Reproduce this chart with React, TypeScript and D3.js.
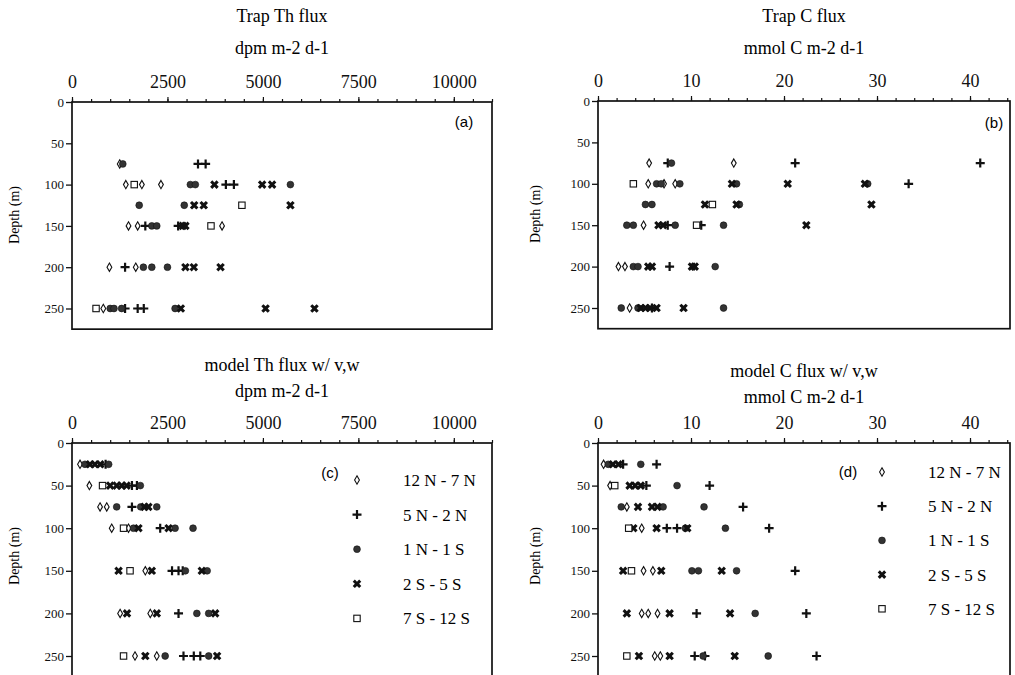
import React, { useEffect, useRef } from "react";
import * as d3 from "d3";

const depthTicks = [0, 50, 100, 150, 200, 250];
const thTicks = [0, 2500, 5000, 7500, 10000];
const cTicks = [0, 10, 20, 30, 40];
const seriesNames = ["12 N - 7 N", "5 N - 2 N", "1 N - 1 S", "2 S - 5 S", "7 S - 12 S"];

// [depth (m), flux] pairs

// (a) trap Th flux, dpm m-2 d-1
const trapTh12N7N = [[75, 1250], [100, 1410], [100, 1830], [100, 2330], [150, 1480], [150, 1720], [150, 3930], [200, 980], [200, 1670], [250, 820]];
const trapTh5N2N = [[75, 3300], [75, 3500], [100, 4030], [100, 4240], [150, 1920], [150, 2780], [200, 1390], [250, 1390], [250, 1720], [250, 1880]];
const trapTh1N1S = [[75, 1330], [100, 3100], [100, 3230], [100, 5720], [125, 1760], [125, 2940], [150, 2090], [150, 2220], [200, 1870], [200, 2090], [200, 2500], [250, 1000], [250, 1100], [250, 1300], [250, 2700]];
const trapTh2S5S = [[100, 3730], [100, 4980], [100, 5240], [125, 3200], [125, 3450], [125, 5720], [150, 2900], [150, 2970], [200, 2970], [200, 3190], [200, 3890], [250, 2850], [250, 5070], [250, 6350]];
const trapTh7S12S = [[100, 1630], [125, 4450], [150, 3640], [250, 630]];

// (b) trap C flux, mmol C m-2 d-1
const trapC12N7N = [[75, 5.5], [75, 14.6], [100, 5.4], [100, 7.1], [100, 8.3], [150, 4.9], [200, 2.2], [200, 2.9], [250, 3.4]];
const trapC5N2N = [[75, 7.5], [75, 21.2], [75, 41.1], [100, 33.4], [150, 7.5], [150, 11.1], [200, 7.7], [250, 5.8]];
const trapC1N1S = [[75, 7.9], [100, 6.3], [100, 6.8], [100, 8.8], [100, 14.9], [100, 29.0], [125, 5.1], [125, 5.8], [125, 15.2], [150, 3.1], [150, 3.8], [150, 8.3], [150, 13.5], [200, 3.8], [200, 4.3], [200, 12.6], [250, 2.5], [250, 4.3], [250, 13.5]];
const trapC2S5S = [[100, 14.4], [100, 20.4], [100, 28.7], [125, 11.5], [125, 14.9], [125, 29.4], [150, 6.5], [150, 7.0], [150, 22.4], [200, 5.4], [200, 5.8], [200, 10.1], [200, 10.4], [250, 4.6], [250, 5.1], [250, 5.6], [250, 6.3], [250, 9.2]];
const trapC7S12S = [[100, 3.8], [125, 12.3], [150, 10.6]];

// (c) model Th flux w/ v,w
const modelTh12N7N = [[25, 210], [50, 455], [75, 735], [75, 910], [100, 1040], [100, 1480], [150, 1920], [200, 1260], [200, 2050], [250, 1650], [250, 2220]];
const modelTh5N2N = [[25, 880], [50, 1570], [50, 1700], [75, 1570], [100, 2310], [150, 2620], [150, 2790], [150, 2900], [200, 2790], [250, 2920], [250, 3190], [250, 3360]];
const modelTh1N1S = [[25, 340], [25, 960], [50, 1790], [75, 1170], [75, 1800], [75, 2220], [100, 1610], [100, 2700], [100, 3170], [150, 2970], [150, 3540], [200, 3270], [200, 3580], [250, 2440], [250, 3580]];
const modelTh2S5S = [[25, 470], [25, 600], [25, 740], [50, 1000], [50, 1170], [50, 1300], [50, 1430], [75, 1900], [75, 2000], [100, 1740], [100, 2530], [150, 1220], [150, 2090], [150, 3400], [200, 1440], [200, 2220], [200, 3750], [250, 1920], [250, 3800]];
const modelTh7S12S = [[50, 800], [100, 1350], [150, 1520], [250, 1350]];

// (d) model C flux w/ v,w
const modelC12N7N = [[25, 0.6], [50, 1.3], [75, 3.1], [100, 4.7], [150, 4.9], [150, 5.9], [200, 4.7], [200, 5.4], [200, 6.4], [250, 6.1], [250, 6.7]];
const modelC5N2N = [[25, 2.7], [25, 6.3], [50, 5.2], [50, 12.0], [75, 15.6], [100, 7.4], [100, 8.5], [100, 18.4], [150, 21.2], [200, 10.6], [200, 22.4], [250, 10.4], [250, 11.5], [250, 23.5]];
const modelC1N1S = [[25, 1.1], [25, 4.6], [50, 8.5], [75, 2.5], [75, 7.0], [75, 11.4], [100, 9.4], [100, 13.7], [150, 10.1], [150, 10.8], [150, 14.9], [200, 16.9], [250, 11.3], [250, 18.3]];
const modelC2S5S = [[25, 1.6], [25, 2.2], [50, 3.4], [50, 4.0], [50, 4.6], [75, 4.3], [75, 5.8], [75, 6.4], [100, 3.8], [100, 6.3], [100, 9.6], [150, 2.7], [150, 6.8], [150, 13.3], [200, 3.1], [200, 7.7], [200, 14.2], [250, 4.4], [250, 7.7], [250, 14.7]];
const modelC7S12S = [[50, 1.8], [100, 3.3], [150, 3.6], [250, 3.1]];

const serif = "'Liberation Serif', 'DejaVu Serif', serif";
const sans = "'Liberation Sans', Arial, sans-serif";

// draws one marker of series i at (cx, cy)
function marker(g, i, cx, cy) {
    const t = `translate(${cx},${cy})`;
    if (i === 0) {
        g.append("path").attr("transform", t)
            .attr("d", d3.symbol(d3.symbolDiamond, 20)())
            .attr("fill", "#fff").attr("stroke", "#111").attr("stroke-width", 1.1);
    } else if (i === 1) {
        g.append("path").attr("transform", t)
            .attr("d", "M-4.5,0H4.5M0,-4.5V4.5")
            .attr("stroke", "#111").attr("stroke-width", 2.2);
    } else if (i === 2) {
        g.append("circle").attr("cx", cx).attr("cy", cy).attr("r", 3.4)
            .attr("fill", "#333").attr("stroke", "#111").attr("stroke-width", 0.6);
    } else if (i === 3) {
        g.append("path").attr("transform", t + " rotate(45)")
            .attr("d", d3.symbol(d3.symbolCross, 46)())
            .attr("fill", "#111");
    } else {
        g.append("rect").attr("x", cx - 3.2).attr("y", cy - 3.2).attr("width", 6.4).attr("height", 6.4)
            .attr("fill", "#fff").attr("stroke", "#111").attr("stroke-width", 1.1);
    }
}

function drawPanel(svg, p) {
    const x = d3.scaleLinear().domain([0, p.xMax]).range([p.left, p.right]);
    const y = d3.scaleLinear().domain([0, 275]).range([p.top, p.top + 275 * p.yk]);
    const g = svg.append("g");

    g.append("rect")
        .attr("x", p.left).attr("y", p.top)
        .attr("width", p.right - p.left).attr("height", 275 * p.yk)
        .attr("fill", "none").attr("stroke", "#111").attr("stroke-width", 1.7);

    // minor ticks on top
    const minor = g.append("g").attr("transform", `translate(0,${p.top})`)
        .call(d3.axisTop(x).tickValues(d3.range(0, p.xMax + 1e-9, p.minorStep)).tickSize(3).tickFormat(() => ""));
    minor.select(".domain").remove();

    const major = g.append("g").attr("transform", `translate(0,${p.top})`)
        .call(d3.axisTop(x).tickValues(p.ticks).tickSize(5).tickPadding(9).tickFormat(d3.format("d")));
    major.select(".domain").remove();
    major.selectAll("text").style("font-family", serif).style("font-size", "18px").attr("fill", "#111");
    g.selectAll("line").attr("stroke", "#111").attr("stroke-width", 1.2);

    const left = g.append("g").attr("transform", `translate(${p.left},0)`)
        .call(d3.axisLeft(y).tickValues(depthTicks).tickSize(6).tickPadding(2));
    left.select(".domain").remove();
    left.selectAll("line").attr("stroke", "#111").attr("stroke-width", 1.3);
    left.selectAll("text").style("font-family", serif).style("font-size", "13px").attr("fill", "#111");

    g.append("text")
        .attr("transform", `translate(${p.labelX},${p.top + 113}) rotate(-90)`)
        .attr("text-anchor", "middle")
        .style("font-family", serif).style("font-size", "14px")
        .text("Depth (m)");

    const cx = (p.left + p.right) / 2;
    g.append("text").attr("x", cx).attr("y", p.titleY).attr("text-anchor", "middle")
        .style("font-family", serif).style("font-size", "18px").text(p.title);
    g.append("text").attr("x", cx).attr("y", p.titleY + p.unitGap).attr("text-anchor", "middle")
        .style("font-family", serif).style("font-size", "18px").text(p.unit);

    g.append("text").attr("x", p.tagX).attr("y", p.tagY).attr("text-anchor", "middle")
        .style("font-family", sans).style("font-size", "15px").text(p.tag);

    const pts = g.append("g");
    p.series.forEach((s, i) => {
        s.forEach(([d, v]) => marker(pts, i, x(v), y(d)));
    });

    if (p.legendX) {
        const lg = g.append("g");
        seriesNames.forEach((name, i) => {
            const ly = p.legendY + i * p.legendStep;
            marker(lg, i, p.legendX, ly);
            lg.append("text").attr("x", p.legendX + 46).attr("y", ly + 6)
                .style("font-family", serif).style("font-size", "17px").text(name);
        });
    }
}

export default function App() {
    const ref = useRef(null);

    useEffect(() => {
        const svg = d3.select(ref.current);
        svg.selectAll("*").remove();

        drawPanel(svg, {
            left: 72, right: 492, top: 102, yk: 0.826, xMax: 11000, ticks: thTicks, minorStep: 500,
            title: "Trap Th flux", unit: "dpm m-2 d-1", titleY: 22, unitGap: 32, labelX: 19,
            tag: "(a)", tagX: 464, tagY: 127,
            series: [trapTh12N7N, trapTh5N2N, trapTh1N1S, trapTh2S5S, trapTh7S12S],
        });
        drawPanel(svg, {
            left: 598, right: 1010, top: 101, yk: 0.828, xMax: 44.3, ticks: cTicks, minorStep: 2,
            title: "Trap C flux", unit: "mmol C m-2 d-1", titleY: 22, unitGap: 32, labelX: 540,
            tag: "(b)", tagX: 994, tagY: 128,
            series: [trapC12N7N, trapC5N2N, trapC1N1S, trapC2S5S, trapC7S12S],
        });
        drawPanel(svg, {
            left: 72, right: 492, top: 443, yk: 0.852, xMax: 11000, ticks: thTicks, minorStep: 500,
            title: "model Th flux w/ v,w", unit: "dpm m-2 d-1", titleY: 371, unitGap: 26, labelX: 19,
            tag: "(c)", tagX: 330, tagY: 478,
            series: [modelTh12N7N, modelTh5N2N, modelTh1N1S, modelTh2S5S, modelTh7S12S],
            legendX: 357, legendY: 480, legendStep: 34.6,
        });
        drawPanel(svg, {
            left: 598, right: 1010, top: 443, yk: 0.852, xMax: 44.3, ticks: cTicks, minorStep: 2,
            title: "model C flux w/ v,w", unit: "mmol C m-2 d-1", titleY: 377, unitGap: 26, labelX: 540,
            tag: "(d)", tagX: 848, tagY: 477,
            series: [modelC12N7N, modelC5N2N, modelC1N1S, modelC2S5S, modelC7S12S],
            legendX: 882, legendY: 472, legendStep: 34.2,
        });
    }, []);

    return (
        <svg
            ref={ref}
            width={1015}
            height={675}
            style={{ position: "absolute", left: 0, top: 0, background: "#fff" }}
        />
    );
}
